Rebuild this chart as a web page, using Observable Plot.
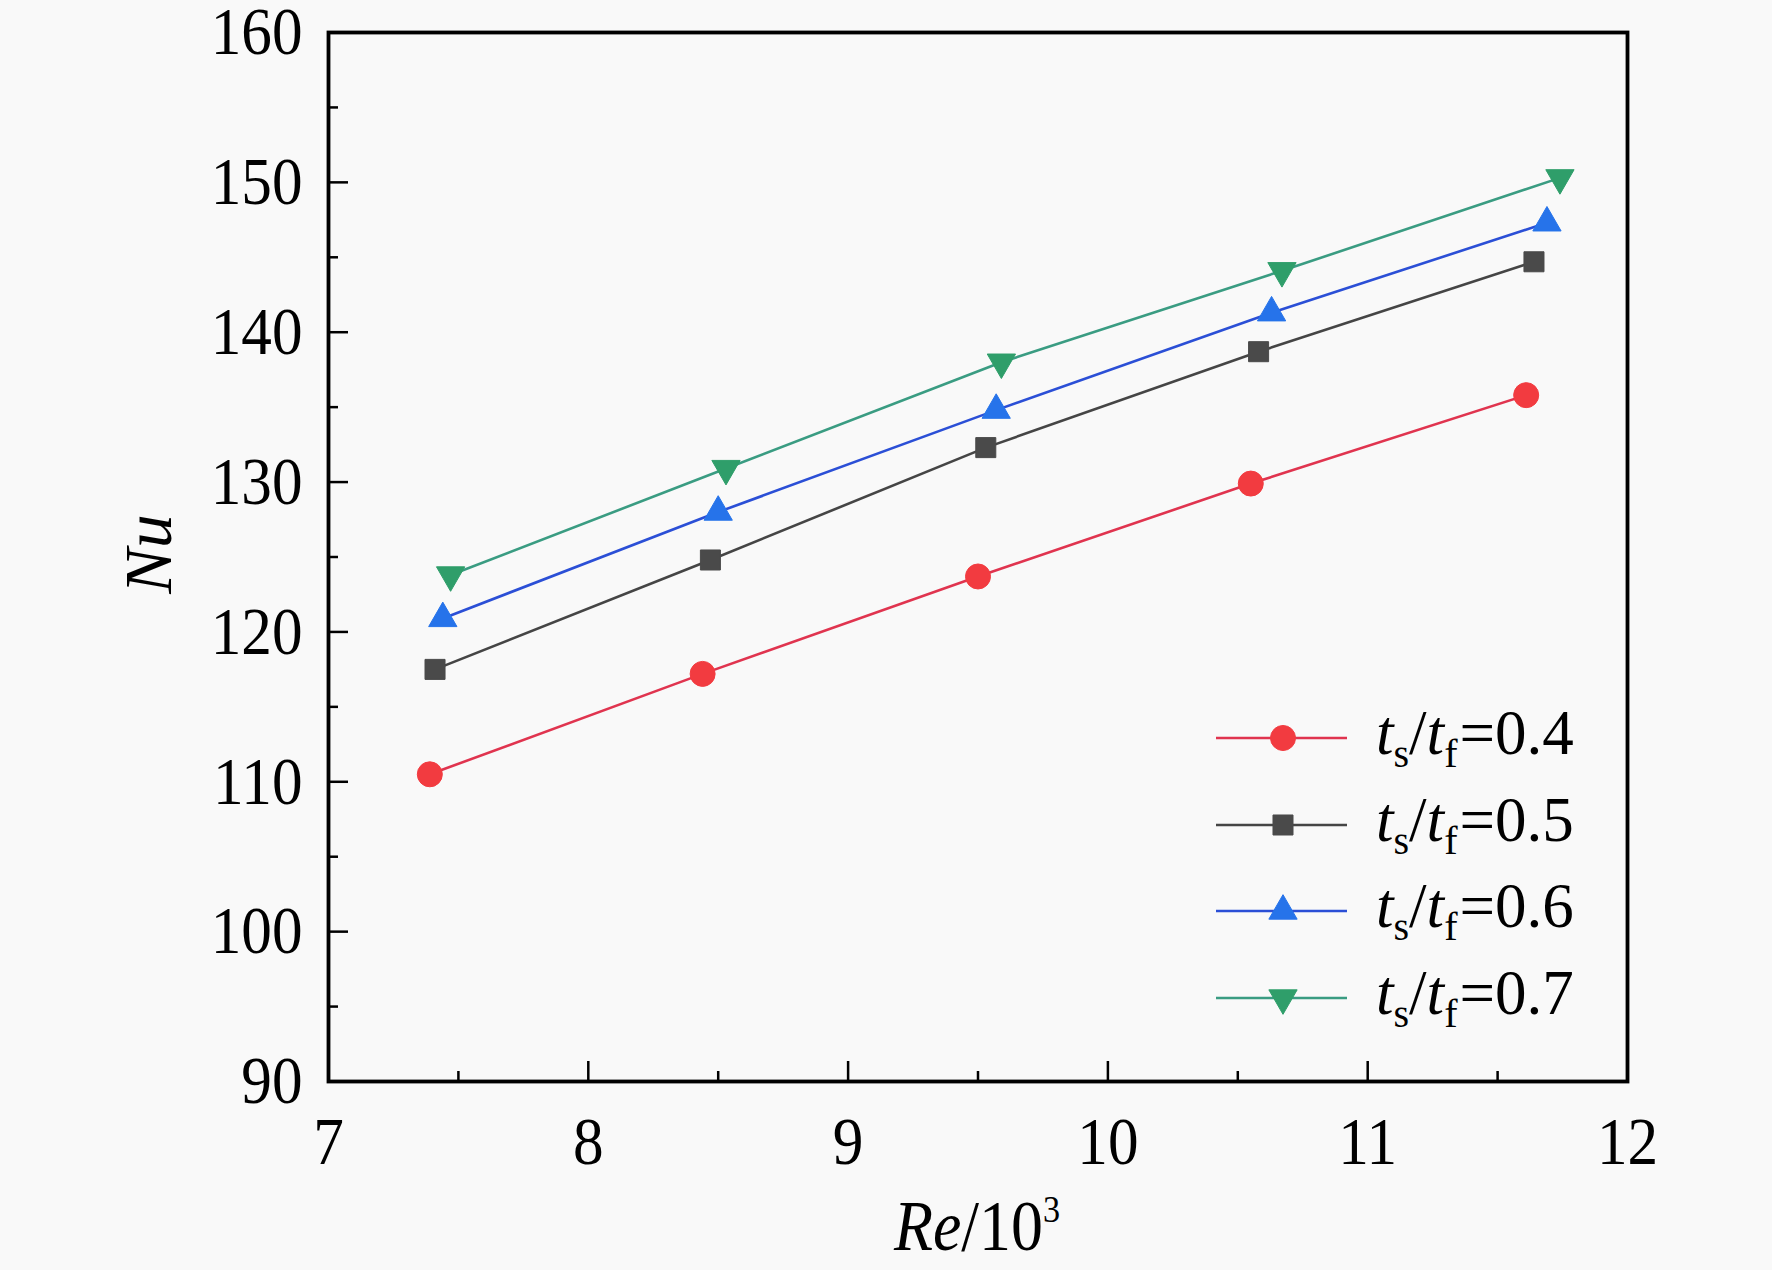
<!DOCTYPE html>
<html>
<head>
<meta charset="utf-8">
<script src="https://cdn.jsdelivr.net/npm/d3@7"></script>
<script src="https://cdn.jsdelivr.net/npm/@observablehq/plot@0.6"></script>
<style>
  html, body { margin: 0; padding: 0; background: #f9f9f9; }
  #chart { position: relative; width: 1772px; height: 1270px; }
</style>
</head>
<body>
<div id="chart"></div>
<script>
// ---- data ----
const seriesLabels = ["0.4", "0.5", "0.6", "0.7"];
const re04 = [7.39, 8.44, 9.50, 10.55, 11.61];
const nu04 = [110.5, 117.2, 123.7, 129.9, 135.8];
const re05 = [7.41, 8.47, 9.53, 10.58, 11.64];
const nu05 = [117.5, 124.8, 132.3, 138.7, 144.7];
const re06 = [7.44, 8.50, 9.57, 10.63, 11.69];
const nu06 = [120.9, 128.0, 134.8, 141.3, 147.3];
const re07 = [7.47, 8.53, 9.59, 10.67, 11.74];
const nu07 = [123.8, 130.9, 138.0, 144.1, 150.3];

const xMajorTicks = [7, 8, 9, 10, 11, 12];
const xMinorTicks = [7.5, 8.5, 9.5, 10.5, 11.5];
const yMajorTicks = [90, 100, 110, 120, 130, 140, 150, 160];
const yMinorTicks = [95, 105, 115, 125, 135, 145, 155];

// styles
const styles = [
  {line: "#e0344f", fill: "#f23b40", symbol: "circle", r: 12.5, rotate: 0},
  {line: "#454545", fill: "#4a4a4a", symbol: "square", r: 11.3, rotate: 0},
  {line: "#2b4fd6", fill: "#2673ea", symbol: "triangle", r: 10.5, rotate: 0},
  {line: "#3a9c82", fill: "#2f9e6a", symbol: "triangle", r: 10.5, rotate: 180}
];

const reList = [re04, re05, re06, re07];
const nuList = [nu04, nu05, nu06, nu07];
const tables = seriesLabels.map((s, i) => reList[i].map((x, j) => ({series: s, re: x, nu: nuList[i][j]})));

const font = "'Liberation Serif', 'Times New Roman', serif";
const SX = 0.9; // horizontal squeeze of the reference's glyphs

const marks = [
  Plot.axisX({ticks: xMajorTicks, tickSize: -20, tickPadding: 54, label: null, fontSize: 68, strokeWidth: 2.5, tickFormat: d => String(d)}),
  Plot.axisX({ticks: xMinorTicks, tickSize: -10, tickPadding: 0, label: null, strokeWidth: 2.5, tickFormat: () => ""}),
  Plot.axisY({ticks: yMajorTicks, tickSize: -20, tickPadding: 46, label: null, fontSize: 68, strokeWidth: 2.5, tickFormat: d => String(d)}),
  Plot.axisY({ticks: yMinorTicks, tickSize: -10, tickPadding: 0, label: null, strokeWidth: 2.5, tickFormat: () => ""}),
  Plot.frame({stroke: "black", strokeWidth: 3.8})
];
tables.forEach((t, i) => {
  marks.push(Plot.line(t, {x: "re", y: "nu", stroke: styles[i].line, strokeWidth: 2.6}));
});
tables.forEach((t, i) => {
  marks.push(Plot.dot(t, {x: "re", y: "nu", symbol: styles[i].symbol, r: styles[i].r, fill: styles[i].fill, stroke: styles[i].fill, strokeWidth: 1, rotate: styles[i].rotate}));
});

const plot = Plot.plot({
  width: 1772,
  height: 1270,
  marginLeft: 328,
  marginRight: 145,
  marginTop: 32,
  marginBottom: 189,
  x: {domain: [7, 12]},
  y: {domain: [90, 160]},
  style: {background: "transparent", fontFamily: font, fontSize: "68px", color: "black", overflow: "visible"},
  marks
});
document.getElementById("chart").appendChild(plot);

const svg = d3.select(plot);

// squeeze tick label glyphs horizontally around their anchor (position stays in the transform)
svg.selectAll("g[aria-label$='tick label'] text").each(function() {
  const el = d3.select(this);
  const tr = el.attr("transform") || "";
  el.attr("transform", `${tr} scale(${SX},1)`);
});

// Nu
svg.append("text")
  .attr("transform", "translate(147,554) rotate(-90)")
  .attr("text-anchor", "middle").attr("dy", "0.35em")
  .style("font-family", font).style("font-size", "68px").style("font-style", "italic")
  .text("Nu");

// Re/10^3
const xt = svg.append("text")
  .attr("transform", `translate(977,1250) scale(${SX},1)`)
  .attr("text-anchor", "middle")
  .style("font-family", font).style("font-size", "71px");
xt.append("tspan").style("font-style", "italic").text("Re");
xt.append("tspan").text("/10");
xt.append("tspan").attr("dy", "-0.75em").style("font-size", "38px").text("3");

// legend
const legendX0 = 1216, legendX1 = 1347, markerX = 1283, textX = 1376;
const rowY = [738, 825, 911, 998];
const symbolMap = {circle: d3.symbolCircle, square: d3.symbolSquare, triangle: d3.symbolTriangle};
seriesLabels.forEach((s, i) => {
  const st = styles[i];
  const g = svg.append("g");
  g.append("line").attr("x1", legendX0).attr("x2", legendX1).attr("y1", rowY[i]).attr("y2", rowY[i])
    .attr("stroke", st.line).attr("stroke-width", 2.4);
  g.append("path")
    .attr("d", d3.symbol(symbolMap[st.symbol], Math.PI * st.r * st.r)())
    .attr("transform", `translate(${markerX},${rowY[i]}) rotate(${st.rotate})`)
    .attr("fill", st.fill).attr("stroke", st.fill).attr("stroke-width", 1);
  const t = g.append("text")
    .attr("transform", `translate(${textX},${rowY[i] + 16})`)
    .attr("text-anchor", "start")
    .style("font-family", font).style("font-size", "63px");
  t.append("tspan").style("font-style", "italic").text("t");
  t.append("tspan").attr("dy", "13").style("font-size", "40px").text("s");
  t.append("tspan").attr("dy", "-13").text("/");
  t.append("tspan").style("font-style", "italic").text("t");
  t.append("tspan").attr("dy", "13").style("font-size", "40px").text("f");
  t.append("tspan").attr("dy", "-13").attr("dx", "2").text("=" + s);
});
</script>
</body>
</html>
